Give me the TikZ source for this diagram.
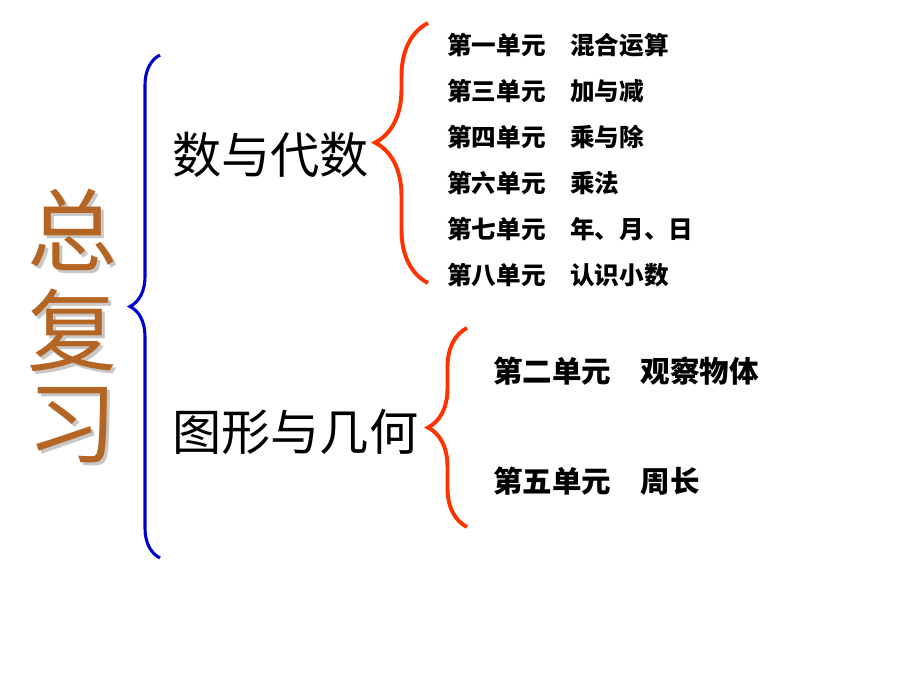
\documentclass[tikz,border=0pt]{standalone}
\usepackage{fontspec}
\newfontfamily\cjk{Noto Sans CJK SC}
\usetikzlibrary{decorations.pathreplacing, positioning}
\definecolor{azul}{RGB}{0,0,204}
\definecolor{rojo}{RGB}{255,51,0}
\definecolor{cobre}{RGB}{180,100,35}

\begin{document}
\begin{tikzpicture}[x=0.025cm, y=-0.025cm]
        \tikzstyle{titulo} = [font=\cjk\fontsize{64}{64}\selectfont, inner sep=0, text=cobre]
        \tikzstyle{sombra} = [font=\cjk\fontsize{64}{64}\selectfont, inner sep=0, text=black!22]
        \tikzstyle{rama} = [font=\cjk\fontsize{35}{40}\selectfont, anchor=west, inner sep=0]
        \tikzstyle{unidad} = [font=\cjk\bfseries\fontsize{17.5}{20}\selectfont, anchor=west, inner sep=0]
        \tikzstyle{unidadg} = [font=\cjk\bfseries\fontsize{21}{24}\selectfont, anchor=west, inner sep=0]
        \tikzstyle{llave} = [decorate, line width=2.2pt]

        \useasboundingbox (0,0) rectangle (920,690);

        % Titulo vertical (con sombra)
        \node [sombra] at (75,233) (zongS) {总};
        \node [sombra] at (75,333) (fuS) {复};
        \node [sombra] at (75,428) (xiS) {习};
        \node [titulo] at (72,230) (zong) {总};
        \node [titulo] at (72,330) (fu) {复};
        \node [titulo] at (72,425) (xi) {习};

        % Ramas
        \node [rama] at (172,155) (algebra) {数与代数};
        \node [rama] at (172,432) (geometria) {图形与几何};

        % Unidades
        \node [unidad] at (447,45) (u1) {第一单元\quad 混合运算};
        \node [unidad, below=1.15cm of u1.south west, anchor=south west] (u3) {第三单元\quad 加与减};
        \node [unidad, below=1.15cm of u3.south west, anchor=south west] (u4) {第四单元\quad 乘与除};
        \node [unidad, below=1.15cm of u4.south west, anchor=south west] (u6) {第六单元\quad 乘法};
        \node [unidad, below=1.15cm of u6.south west, anchor=south west] (u7) {第七单元\quad 年、月、日};
        \node [unidad, below=1.15cm of u7.south west, anchor=south west] (u8) {第八单元\quad 认识小数};
        \node [unidadg] at (493,371) (u2) {第二单元\quad 观察物体};
        \node [unidadg] at (493,481) (u5) {第五单元\quad 周长};

        % Llaves
        \coordinate (a1) at (160,55);
        \coordinate (a2) at (160,558);
        \coordinate (b1) at (428,23);
        \coordinate (b2) at (428,283);
        \coordinate (c1) at (467,328);
        \coordinate (c2) at (467,527);

        \draw [llave, azul, decoration={brace, amplitude=0.75cm}] (a2) -- (a1);
        \draw [llave, rojo, line width=2.8pt, decoration={brace, amplitude=1.325cm, aspect=0.54}] (b2) -- (b1);
        \draw [llave, rojo, line width=2.8pt, decoration={brace, amplitude=0.975cm}] (c2) -- (c1);

        \end{tikzpicture}
\end{document}
